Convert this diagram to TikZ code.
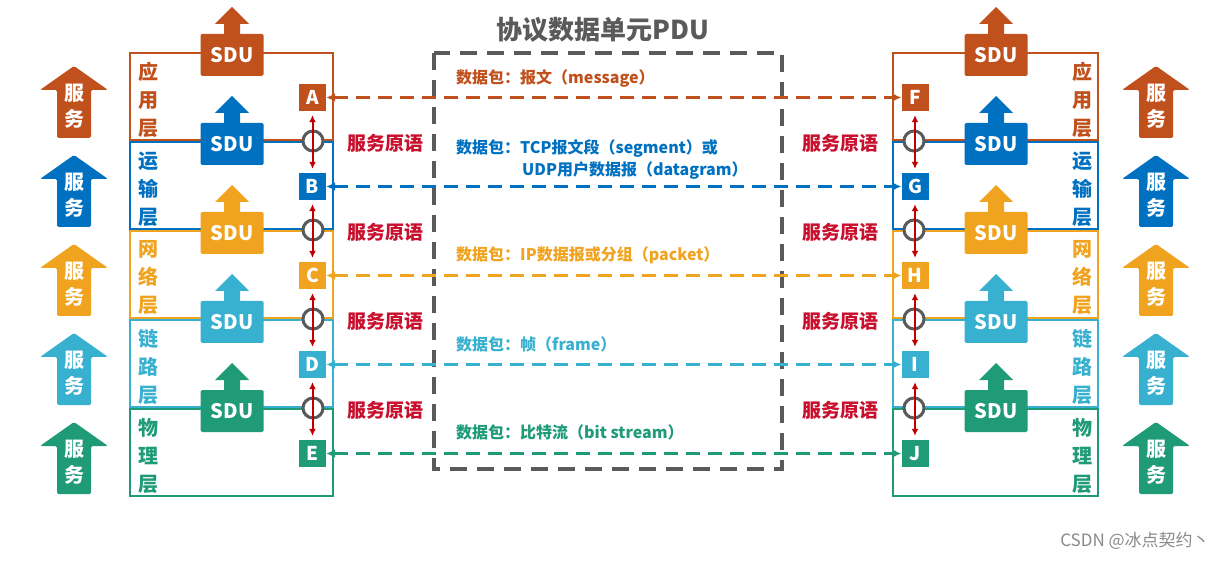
\documentclass[tikz,border=0pt]{standalone}
\usepackage{fontspec}
\setmainfont{Noto Sans CJK SC}
\usetikzlibrary{arrows.meta}
\definecolor{c0}{HTML}{C0501C}
\definecolor{c1}{HTML}{0070C0}
\definecolor{c2}{HTML}{F0A31F}
\definecolor{c3}{HTML}{38B0D0}
\definecolor{c4}{HTML}{1F9B77}
\definecolor{redtxt}{HTML}{C8102E}
\definecolor{redarr}{HTML}{C00000}
\definecolor{grayc}{HTML}{5A5A5A}
\definecolor{csdngray}{HTML}{8A8A8A}
\begin{document}
\begin{tikzpicture}[x=1pt,y=-1pt,
  layerbox/.style={line width=2.5pt},
  sdutext/.style={text=white,font=\fontsize{20}{24}\selectfont\bfseries,inner sep=0pt},
  svctext/.style={text=white,font=\fontsize{20}{26}\selectfont\bfseries,align=center,inner sep=0pt},
  layerlab/.style={font=\fontsize{20}{28}\selectfont\bfseries,align=center,inner sep=0pt},
  letter/.style={minimum width=27pt,minimum height=27pt,inner sep=0pt,text=white,font=\fontsize{19}{20}\selectfont\bfseries},
  prim/.style={text=redtxt,font=\fontsize{19}{22}\selectfont\bfseries,inner sep=0pt},
  pdulab/.style={font=\fontsize{16}{20}\selectfont\bfseries,anchor=west,inner sep=0pt},
  pduline/.style={line width=3.5pt,dash pattern=on 14pt off 8pt,{Latex[length=9pt,width=9pt]}-{Latex[length=9pt,width=9pt]}},
  redline/.style={redarr,line width=2pt,{Latex[length=7pt,width=7pt]}-{Latex[length=7pt,width=7pt]},shorten <=4pt,shorten >=4pt},
  ring/.style={circle,draw=grayc,line width=3pt,fill=white,minimum size=20pt,inner sep=0pt},
  titletext/.style={text=grayc,font=\fontsize{26}{28}\selectfont\bfseries,inner sep=0pt},
  grayframe/.style={draw=grayc,line width=3.5pt,dash pattern=on 17pt off 10pt}
]
\useasboundingbox (0,0) rectangle (1232,561);
\fill[white] (0,0) rectangle (1232,561);

% central PDU frame
\draw[grayframe] (434,53) rectangle (782,469);
\node[titletext] (title) at (603,30) {协议数据单元PDU};

\foreach \i/\c/\lab/\la/\ra in {0/c0/{应\\用\\层}/A/F,1/c1/{运\\输\\层}/B/G,2/c2/{网\\络\\层}/C/H,3/c3/{链\\路\\层}/D/I,4/c4/{物\\理\\层}/E/J}{
  \pgfmathsetmacro\T{53+89*\i}
  % layer boxes
  \draw[layerbox,\c] (130,\T) rectangle (333,\T+87);
  \draw[layerbox,\c] (893,\T) rectangle (1098,\T+87);
  % SDU arrows
  \foreach \x/\s in {232/L,996/R}{
    \fill[\c,rounded corners=1.5pt] (\x-31.5,\T-19) -- (\x+31.5,\T-19) -- (\x+31.5,\T+23) -- (\x-31.5,\T+23) -- cycle;
    \fill[\c] (\x,\T-46) -- (\x+17,\T-29) -- (\x+8,\T-29) -- (\x+8,\T-17) -- (\x-8,\T-17) -- (\x-8,\T-29) -- (\x-17,\T-29) -- cycle;
    \node[sdutext] (sdu\s\i) at (\x,\T+2) {SDU};
  }
  % service arrows
  \foreach \x/\s in {74/L,1156/R}{
    \fill[\c,rounded corners=1.5pt] (\x,\T+13) -- (\x+34,\T+37) -- (\x+17,\T+37) -- (\x+17,\T+85) -- (\x-17,\T+85) -- (\x-17,\T+37) -- (\x-34,\T+37) -- cycle;
    \node[svctext] (svc\s\i) at (\x,\T+53) {服\\务};
  }
  % layer labels
  \node[layerlab,text=\c] (labL\i) at (148,\T+47) {\lab};
  \node[layerlab,text=\c] (labR\i) at (1082,\T+47) {\lab};
  % letters
  \node[letter,fill=\c] (\la) at (312.5,\T+44.5) {\la};
  \node[letter,fill=\c] (\ra) at (915,\T+44.5) {\ra};
  \draw[pduline,\c] (\la.east) -- (\ra.west);
}

% PDU labels
\node[pdulab,text=c0] (p0) at (456,78) {数据包：报文（message）};
\node[pdulab,text=c1] (p1a) at (456,148) {数据包：TCP报文段（segment）或};
\node[pdulab,text=c1] (p1b) at (522,171) {UDP用户数据报（datagram）};
\node[pdulab,text=c2] (p2) at (456,255) {数据包：IP数据报或分组（packet）};
\node[pdulab,text=c3] (p3) at (456,344) {数据包：帧（frame）};
\node[pdulab,text=c4] (p4) at (456,432) {数据包：比特流（bit stream）};

% service primitives
\foreach \i/\ua/\ub/\va/\vb in {0/A/B/F/G,1/B/C/G/H,2/C/D/H/I,3/D/E/I/J}{
  \pgfmathsetmacro\Y{141+89*\i}
  \node[ring] (ringL\i) at (313,\Y) {};
  \node[ring] (ringR\i) at (914,\Y) {};
  \draw[redline] (\ua.south) -- (\ub.north);
  \draw[redline] (\va.south) -- (\vb.north);
  \node[prim] (primL\i) at (385,\Y+2) {服务原语};
  \node[prim] (primR\i) at (840,\Y+2) {服务原语};
}

\node[text=csdngray,font=\fontsize{17}{20}\selectfont,inner sep=0pt] (csdn) at (1135,541) {CSDN @冰点契约丶};
\end{tikzpicture}
\end{document}
